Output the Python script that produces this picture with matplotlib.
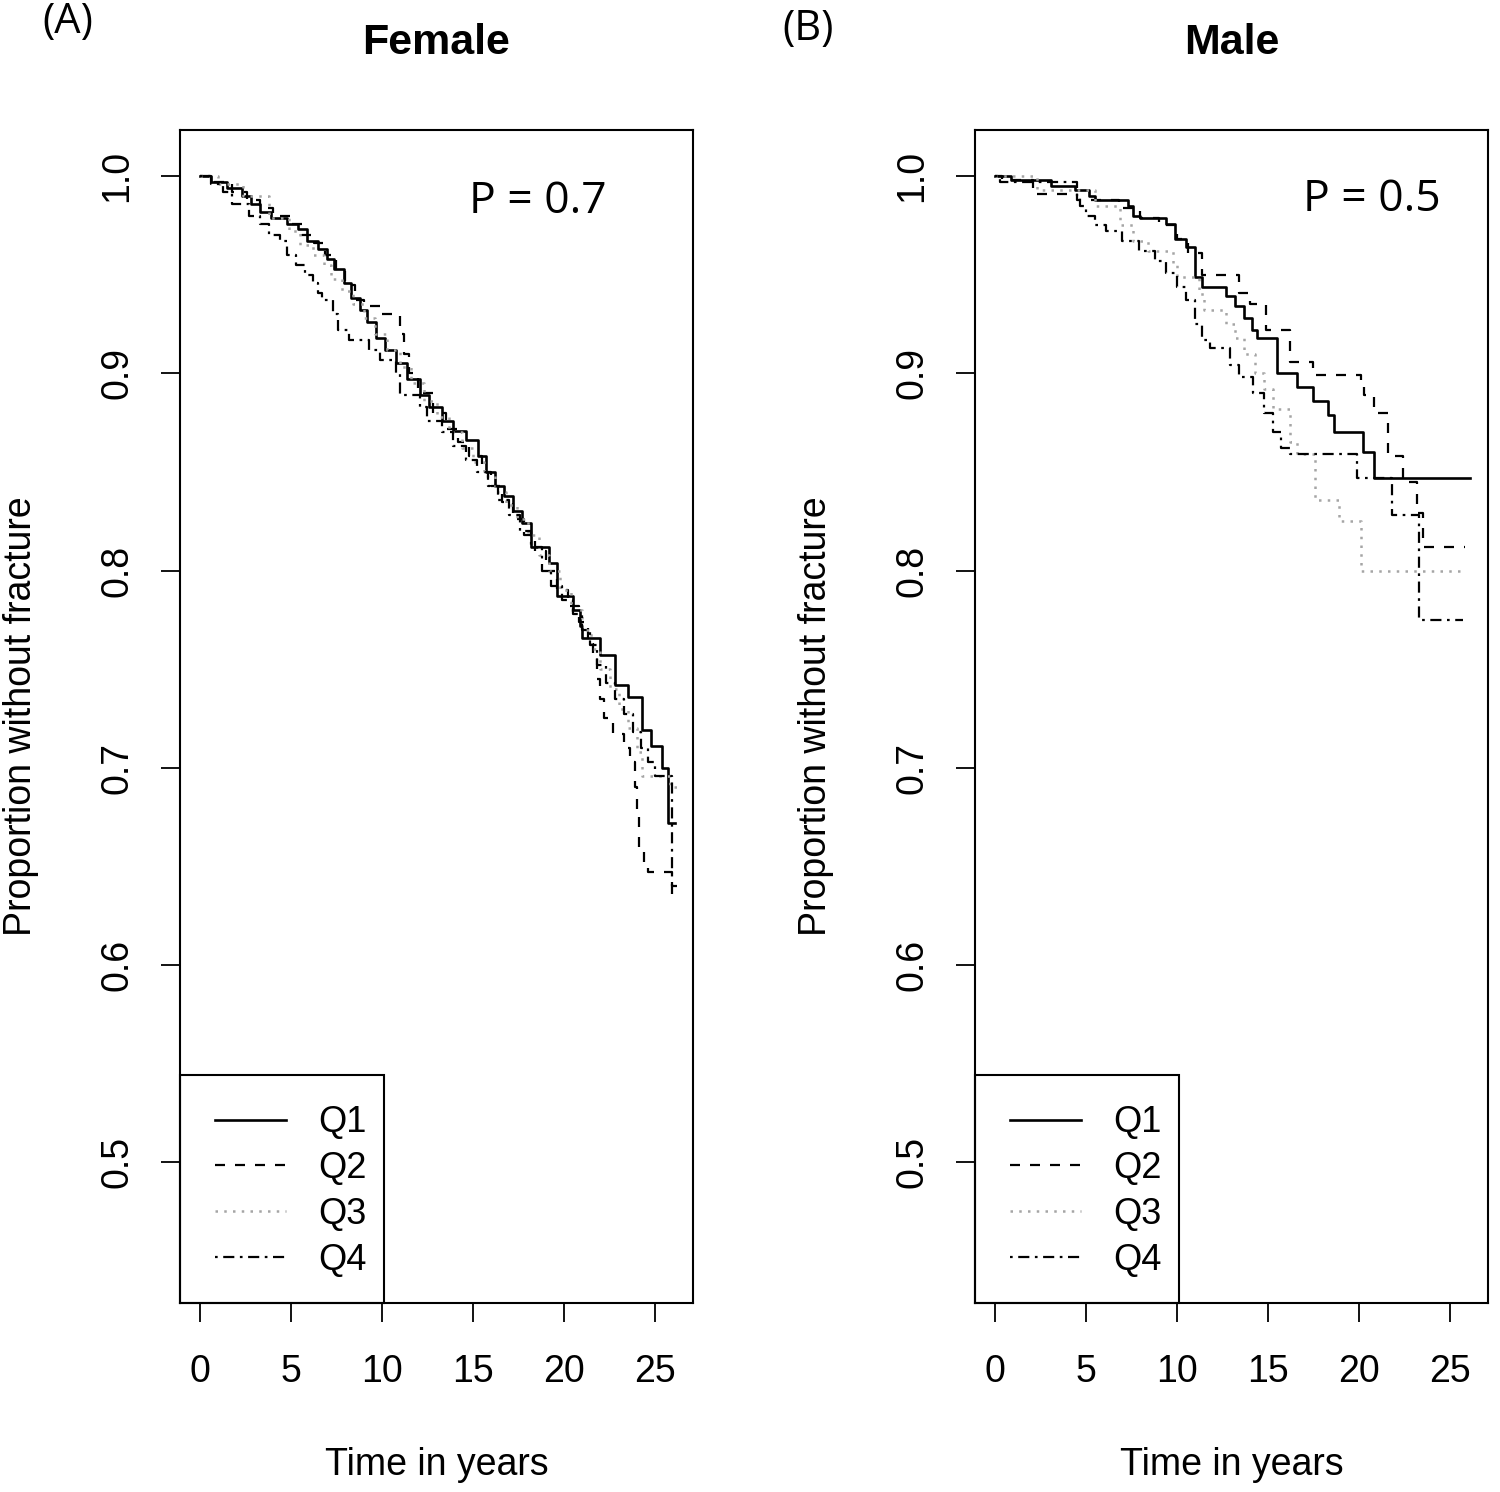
import matplotlib
matplotlib.use("Agg")
import matplotlib.pyplot as plt
from matplotlib.patches import Rectangle

# ---------------- data ----------------
# Female panel (A)
F_Q1_t = [0, 0.6, 1.5, 2.3, 2.8, 3.3, 3.9, 4.8, 5.4, 5.9,
          6.5, 7.0, 7.4, 7.9, 8.3, 8.8, 9.2, 9.7, 10.2, 10.8,
          11.4, 12.1, 12.6, 13.3, 13.9, 14.6, 15.3, 15.7, 16.2, 16.7,
          17.2, 17.7, 18.2, 19.2, 19.6, 20.5, 20.9, 21.0, 22.0, 22.8,
          23.5, 24.3, 24.8, 25.4, 25.7, 26.1]
F_Q1_s = [1.000, 0.997, 0.994, 0.990, 0.986, 0.982, 0.979, 0.976, 0.973, 0.967,
          0.963, 0.958, 0.953, 0.946, 0.938, 0.932, 0.926, 0.918, 0.912, 0.905,
          0.897, 0.889, 0.883, 0.876, 0.871, 0.866, 0.858, 0.850, 0.843, 0.838,
          0.830, 0.824, 0.812, 0.804, 0.787, 0.780, 0.772, 0.766, 0.757, 0.742,
          0.736, 0.719, 0.711, 0.700, 0.672, 0.672]

F_Q2_t = [0, 0.8, 1.8, 2.6, 3.3, 4.0, 5.0, 5.6, 6.3, 6.9,
          7.5, 8.0, 8.5, 9.0, 9.9, 11.0, 11.2, 11.5, 12.0, 12.8,
          13.5, 14.2, 14.8, 15.5, 16.0, 16.6, 17.2, 17.8, 18.4, 19.0,
          19.6, 20.2, 20.8, 21.3, 21.6, 21.8, 22.0, 22.2, 22.7, 23.3,
          23.6, 23.9, 24.0, 24.1, 24.4, 24.6, 25.9, 26.2]
F_Q2_s = [1.000, 0.997, 0.992, 0.988, 0.984, 0.980, 0.976, 0.970, 0.966, 0.960,
          0.953, 0.945, 0.937, 0.934, 0.930, 0.920, 0.910, 0.900, 0.890, 0.880,
          0.872, 0.865, 0.858, 0.850, 0.843, 0.835, 0.826, 0.818, 0.810, 0.800,
          0.790, 0.782, 0.774, 0.765, 0.757, 0.745, 0.735, 0.725, 0.717, 0.710,
          0.703, 0.690, 0.675, 0.658, 0.650, 0.647, 0.636, 0.636]

F_Q3_t = [0, 1.0, 2.4, 3.8, 4.9, 5.5, 6.2, 6.8, 7.2, 7.8,
          8.4, 9.0, 9.6, 10.3, 11.0, 11.6, 12.3, 13.0, 13.7, 14.4,
          15.0, 15.6, 16.2, 16.8, 17.4, 18.0, 18.6, 19.2, 19.8, 20.4,
          21.0, 21.5, 22.0, 22.5, 23.0, 23.5, 24.0, 24.3, 25.8, 26.2]
F_Q3_s = [1.000, 0.996, 0.990, 0.979, 0.972, 0.965, 0.960, 0.955, 0.948, 0.942,
          0.935, 0.928, 0.920, 0.912, 0.903, 0.895, 0.886, 0.878, 0.870, 0.862,
          0.855, 0.848, 0.840, 0.833, 0.826, 0.818, 0.808, 0.800, 0.790, 0.780,
          0.770, 0.760, 0.750, 0.740, 0.730, 0.720, 0.708, 0.696, 0.690, 0.690]

F_Q4_t = [0, 0.6, 1.3, 1.8, 2.7, 3.3, 3.8, 4.4, 4.8, 5.3,
          5.8, 6.2, 6.5, 6.7, 7.3, 7.6, 8.2, 9.3, 9.9, 10.8,
          11.0, 12.1, 12.5, 13.3, 13.9, 14.6, 15.2, 15.8, 16.4, 17.0,
          17.6, 18.2, 18.8, 19.3, 19.9, 20.5, 21.0, 21.4, 21.8, 22.3,
          22.8, 23.3, 23.8, 24.2, 24.6, 25.0, 25.9, 26.2]
F_Q4_s = [1.000, 0.996, 0.992, 0.986, 0.980, 0.976, 0.970, 0.967, 0.960, 0.955,
          0.950, 0.946, 0.941, 0.937, 0.930, 0.922, 0.917, 0.912, 0.907, 0.900,
          0.889, 0.883, 0.876, 0.870, 0.863, 0.856, 0.850, 0.843, 0.836, 0.828,
          0.820, 0.812, 0.800, 0.792, 0.785, 0.778, 0.770, 0.762, 0.752, 0.743,
          0.735, 0.727, 0.718, 0.710, 0.703, 0.696, 0.640, 0.640]

# Male panel (B)
M_Q1_t = [0, 0.9, 3.1, 4.4, 5.2, 5.5, 7.3, 7.6, 8.0, 9.4,
          9.9, 10.5, 11.0, 11.4, 12.7, 13.2, 13.7, 14.1, 14.4, 15.5,
          16.6, 17.5, 18.3, 18.6, 20.2, 20.8, 26.1]
M_Q1_s = [1.000, 0.998, 0.995, 0.993, 0.990, 0.988, 0.985, 0.980, 0.979, 0.976,
          0.968, 0.964, 0.949, 0.944, 0.939, 0.934, 0.928, 0.922, 0.918, 0.900,
          0.893, 0.886, 0.879, 0.870, 0.860, 0.847, 0.847]

M_Q2_t = [0, 0.4, 2.1, 4.5, 6.8, 8.0, 9.0, 10.0, 10.6, 11.4,
          13.4, 14.0, 14.9, 16.2, 17.5, 20.1, 20.3, 20.8, 21.6, 22.4,
          23.2, 23.5, 25.8]
M_Q2_s = [1.000, 0.998, 0.991, 0.988, 0.984, 0.979, 0.975, 0.968, 0.961, 0.950,
          0.941, 0.935, 0.922, 0.906, 0.899, 0.893, 0.889, 0.880, 0.858, 0.845,
          0.829, 0.812, 0.812]

M_Q3_t = [0, 2.3, 5.5, 6.9, 7.6, 8.4, 9.8, 10.0, 11.2, 11.5,
          12.7, 13.2, 13.7, 14.3, 14.8, 15.3, 16.2, 16.6, 17.6, 18.9,
          20.1, 25.7]
M_Q3_s = [1.000, 0.993, 0.985, 0.975, 0.967, 0.962, 0.955, 0.949, 0.940, 0.932,
          0.925, 0.918, 0.910, 0.900, 0.892, 0.882, 0.865, 0.859, 0.836, 0.825,
          0.800, 0.800]

M_Q4_t = [0, 0.3, 4.5, 4.7, 5.0, 5.5, 6.1, 7.0, 7.9, 8.8,
          9.4, 10.0, 10.5, 11.0, 11.4, 11.8, 12.9, 13.4, 14.2, 14.8,
          15.3, 15.7, 16.2, 19.9, 21.8, 23.3, 25.7]
M_Q4_s = [1.000, 0.997, 0.990, 0.985, 0.980, 0.975, 0.972, 0.967, 0.962, 0.957,
          0.951, 0.944, 0.937, 0.925, 0.917, 0.913, 0.904, 0.898, 0.890, 0.880,
          0.870, 0.862, 0.859, 0.847, 0.828, 0.775, 0.775]

GROUPS = ["Q1", "Q2", "Q3", "Q4"]
PANELS = ["(A)", "(B)"]
TITLES = ["Female", "Male"]
P_TEXT = ["P = 0.7", "P = 0.5"]
X_TICKS = [0, 5, 10, 15, 20, 25]
Y_TICKS = [0.5, 0.6, 0.7, 0.8, 0.9, 1.0]

# ---------------- styling ----------------
STYLES = {
    "Q1": dict(color="black", lw=1.9, linestyle="-"),
    "Q2": dict(color="black", lw=1.6, dashes=(4.5, 4.5)),
    "Q3": dict(color="#a5a5a5", lw=1.8, dashes=(1.0, 2.5)),
    "Q4": dict(color="black", lw=1.6, dashes=(1.2, 2.5, 5.0, 2.5)),
}

FONT = ["Liberation Sans", "DejaVu Sans"]
plt.rcParams["font.family"] = FONT

fig = plt.figure(figsize=(15, 14.92), dpi=100)
axes = [fig.add_axes([0.12, 0.1267, 0.342, 0.786]),
        fig.add_axes([0.65, 0.1267, 0.342, 0.786])]

data = [
    {"Q1": (F_Q1_t, F_Q1_s), "Q2": (F_Q2_t, F_Q2_s), "Q3": (F_Q3_t, F_Q3_s), "Q4": (F_Q4_t, F_Q4_s)},
    {"Q1": (M_Q1_t, M_Q1_s), "Q2": (M_Q2_t, M_Q2_s), "Q3": (M_Q3_t, M_Q3_s), "Q4": (M_Q4_t, M_Q4_s)},
]
p_pos = [(14.8, 0.987), (16.9, 0.988)]
panel_pos = [(0.0453, 0.985), (0.539, 0.9806)]

for i, ax in enumerate(axes):
    handles = []
    for g in GROUPS:
        t, s = data[i][g]
        h, = ax.step(t, s, where="post", label=g, **STYLES[g])
        handles.append(h)
    ax.set_xlim(-1.08, 27.08)
    ax.set_ylim(0.4285, 1.0233)
    ax.set_xticks(X_TICKS)
    ax.set_xticklabels([str(v) for v in X_TICKS])
    ax.set_yticks(Y_TICKS)
    ax.set_yticklabels([f"{v:.1f}" for v in Y_TICKS], rotation=90, va="center")
    ax.tick_params(axis="both", direction="out", length=14, width=1.3,
                   labelsize=27, colors="black")
    ax.tick_params(axis="x", pad=23)
    ax.tick_params(axis="y", pad=18)
    for sp in ax.spines.values():
        sp.set_linewidth(1.5)
        sp.set_color("black")
    ax.set_xlabel("Time in years", fontsize=27)
    ax.xaxis.set_label_coords(0.5, -0.123)
    ax.set_ylabel("Proportion without fracture", fontsize=27)
    ax.yaxis.set_label_coords(-0.275, 0.5)
    ax.text(0.5, 1.0745, TITLES[i], transform=ax.transAxes, ha="center",
            va="center", fontsize=31, fontweight="bold")
    ax.text(p_pos[i][0], p_pos[i][1], P_TEXT[i], ha="left", va="center",
            fontsize=32, family=["Open Sans", "DejaVu Sans"])
    ax.legend(handles=handles, loc="lower left", bbox_to_anchor=(0.0195, 0.0),
              borderaxespad=0, fontsize=26, frameon=False,
              handlelength=1.95, handletextpad=0.9, borderpad=0.7,
              labelspacing=0.3)
    ax.add_patch(Rectangle((0, 0), 0.3977, 0.1944, transform=ax.transAxes,
                           fill=False, edgecolor="black", lw=1.5,
                           clip_on=False, zorder=5))
    fig.text(panel_pos[i][0], panel_pos[i][1], PANELS[i], ha="center",
             va="center", fontsize=30, family=["Open Sans", "DejaVu Sans"])

fig.savefig("out.png", dpi=100, facecolor="white")
